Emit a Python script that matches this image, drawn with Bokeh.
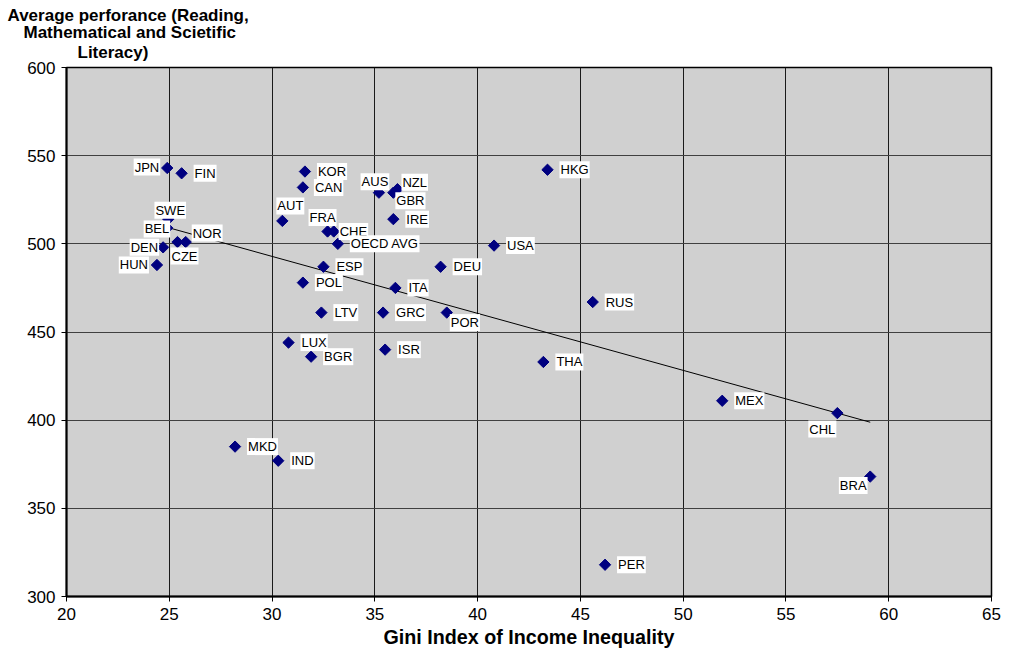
import numpy as np
from bokeh.plotting import figure
from bokeh.models import ColumnDataSource, Range1d, FixedTicker, Title
from bokeh.core.properties import value
from bokeh.embed import file_html
from bokeh.resources import INLINE

# ---------------- data ----------------
countries = ["JPN", "FIN", "SWE", "BEL", "NOR", "CZE", "DEN", "HUN", "KOR", "CAN",
             "AUT", "FRA", "CHE", "OECD AVG", "AUS", "NZL", "GBR", "IRE", "ESP", "POL",
             "ITA", "DEU", "LTV", "GRC", "POR", "LUX", "BGR", "ISR", "HKG", "USA",
             "RUS", "THA", "MEX", "CHL", "BRA", "MKD", "IND", "PER"]
gini = [24.9, 25.6, 24.95, 24.9, 25.8, 25.4, 24.7, 24.4, 31.6, 31.5,
        30.5, 32.7, 33.0, 33.2, 35.2, 36.1, 35.9, 35.9, 32.5, 31.5,
        36.0, 38.2, 32.4, 35.4, 38.5, 30.8, 31.9, 35.5, 43.4, 40.8,
        45.6, 43.2, 51.9, 57.5, 59.1, 28.2, 30.3, 46.2]
score = [543, 540, 514, 509, 501, 501, 498, 488, 541, 532,
         513, 507, 507, 500, 529, 531, 529, 514, 487, 478,
         475, 487, 461, 461, 461, 444, 436, 440, 542, 499,
         467, 433, 411, 404, 368, 385, 377, 318]
x_ticks = [20, 25, 30, 35, 40, 45, 50, 55, 60, 65]
y_ticks = [300, 350, 400, 450, 500, 550, 600]
x_title = "Gini Index of Income Inequality"
y_title_lines = ["Average perforance (Reading,", "Mathematical and Scietific", "Literacy)"]

# ---------------- label placement (style) ----------------
default_place = ("left", 12, 0)
place = {
    "JPN": ("right", -7, -1), "SWE": ("center", 2, -9), "BEL": ("right", 3, 1),
    "NOR": ("left", 6, -9), "CZE": ("center", 7, 14), "DEN": ("right", -4, 0),
    "HUN": ("right", -8, 0), "CAN": ("left", 11, 0), "AUT": ("center", 8, -15),
    "FRA": ("center", -5, -14), "CHE": ("left", 5, 0), "AUS": ("center", -4, -11),
    "NZL": ("left", 4, -7), "GBR": ("left", 2, 8), "POR": ("left", 3, 10),
    "CHL": ("center", -15, 16), "BRA": ("center", -17, 9),
}
aligns, dxs, dys = [], [], []
for c in countries:
    a, dx, dy = place.get(c, default_place)
    aligns.append(a); dxs.append(dx); dys.append(dy)

src = ColumnDataSource(dict(x=gini, y=score, name=countries, align=aligns, dx=dxs, dy=dys))

FONT = "Liberation Sans"

p = figure(width=1008, height=650, output_backend="svg", toolbar_location=None,
           x_range=Range1d(20, 65), y_range=Range1d(300, 600),
           min_border_left=66, min_border_right=17, min_border_top=67, min_border_bottom=54)
p.background_fill_color = "#d0d0d0"
p.border_fill_color = "white"
p.outline_line_color = "black"
p.outline_line_width = 1.5

# grid
p.xgrid.ticker = FixedTicker(ticks=x_ticks)
p.ygrid.ticker = FixedTicker(ticks=y_ticks)
p.xgrid.grid_line_color = "#1a1a1a"
p.ygrid.grid_line_color = "#404040"
p.xgrid.grid_line_width = 1
p.ygrid.grid_line_width = 1

for ax, ticks in ((p.xaxis[0], x_ticks), (p.yaxis[0], y_ticks)):
    ax.ticker = FixedTicker(ticks=ticks)
    ax.minor_tick_line_color = None
    ax.major_tick_in = 0
    ax.major_tick_out = 5
    ax.major_tick_line_color = "black"
    ax.axis_line_color = "black"
    ax.axis_line_width = 2
    ax.major_label_text_font = FONT
    ax.major_label_text_font_size = "17px"
    ax.major_label_text_color = "black"
    ax.major_label_standoff = 6

p.xaxis.axis_label = x_title
p.xaxis.axis_label_text_font = FONT
p.xaxis.axis_label_text_font_size = "19.7px"
p.xaxis.axis_label_text_font_style = "bold"
p.xaxis.axis_label_text_color = "black"
p.xaxis.axis_label_standoff = 3

# trend line (least squares)
k, b = np.polyfit(np.array(gini), np.array(score), 1)
xs = np.array([min(gini), max(gini)])
p.line(xs, k * xs + b, line_color="black", line_width=1)

# points
p.scatter("x", "y", source=src, marker="square", angle=np.pi / 4, size=8,
          fill_color="#000080", line_color="#000080")

# labels
p.text("x", "y", text="name", source=src, text_align="align", x_offset="dx", y_offset="dy",
       text_baseline="middle", text_font=value(FONT), text_font_size="13px",
       text_color="black", background_fill_color="white", padding=1)

# y-axis title above the plot (innermost line first)
offsets = [-59, -43, 11]
standoffs = [6, -14, 12]
for t, off, so in reversed(list(zip(y_title_lines, offsets, standoffs))):
    p.add_layout(Title(text=t, align="left", offset=off, standoff=so,
                       text_font=FONT, text_font_size="17px", text_font_style="bold",
                       text_color="black", text_line_height=1.0), "above")

open("out.html", "w").write(file_html(p, INLINE))
